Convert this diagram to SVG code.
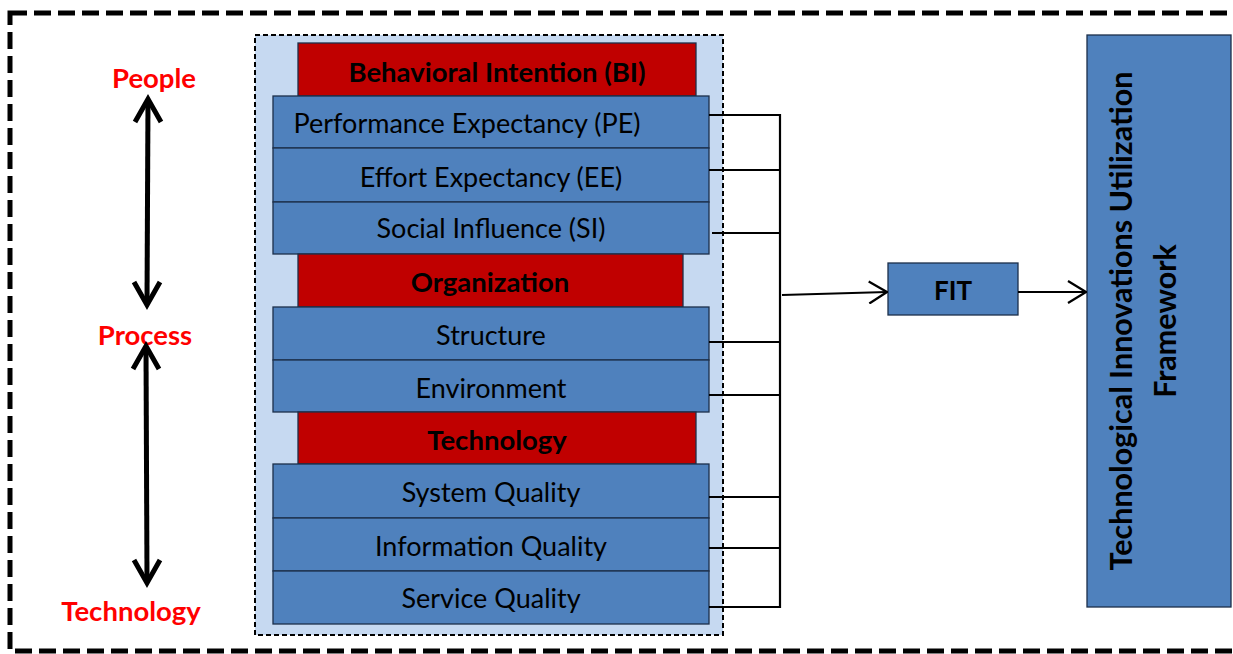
<svg xmlns="http://www.w3.org/2000/svg" width="1233" height="654" viewBox="0 0 1233 654">
  <style>
    .blue { fill: #4f81bd; stroke: #1c2f4a; stroke-width: 1.3; }
    .red { fill: #c00000; stroke: #1c2f4a; stroke-width: 1.3; }
    .lbl { font-family: Lato, "Open Sans", sans-serif; font-size: 27px; fill: #000; text-anchor: middle; }
    .hdr { font-family: Lato, "Open Sans", sans-serif; font-size: 27.5px; font-weight: bold; fill: #000; text-anchor: middle; }
    .vert { font-family: Lato, "Open Sans", sans-serif; font-size: 30.5px; font-weight: bold; fill: #000; text-anchor: middle; }
    .dim { font-family: Lato, "Open Sans", sans-serif; font-size: 27.5px; font-weight: bold; fill: #ff0000; text-anchor: middle; }
    .wire { fill: none; stroke: #000; stroke-width: 2.2; }
    .dbl { fill: none; stroke: #000; stroke-width: 5; stroke-linejoin: miter; }
  </style>
  <defs>
    <marker id="open" viewBox="0 0 20 24" refX="19" refY="12" markerWidth="20" markerHeight="24" markerUnits="userSpaceOnUse" orient="auto">
      <polyline points="1,1 19,12 1,23" fill="none" stroke="#000" stroke-width="2.2"/>
    </marker>
  </defs>

  <rect width="1233" height="654" fill="#fff"/>

  <!-- outer frame -->
  <rect x="10" y="13" width="1240" height="638" fill="none" stroke="#000" stroke-width="5" stroke-dasharray="17,7"/>

  <!-- dimension axis: People / Process / Technology -->
  <g id="axis">
    <text class="dim" x="154" y="88">People</text>
    <text class="dim" x="145" y="345">Process</text>
    <text class="dim" x="131" y="621">Technology</text>
    <line class="dbl" x1="148" y1="100" x2="147" y2="303"/>
    <polyline class="dbl" points="135,122 148,99 161,122"/>
    <polyline class="dbl" points="134,282 147,305 160,282"/>
    <line class="dbl" x1="146" y1="349" x2="147" y2="580"/>
    <polyline class="dbl" points="133,369 146,346 159,369"/>
    <polyline class="dbl" points="134,560 147,583 160,560"/>
  </g>

  <!-- factor stack container -->
  <g id="stack">
    <rect x="255" y="35" width="468" height="600" fill="#c6d9f1" stroke="#000" stroke-width="2" stroke-dasharray="5,3"/>
  </g>

  <g id="bi">
    <rect class="red" x="298" y="43" width="398" height="53"/>
    <text class="hdr" x="497" y="82">Behavioral Intention (BI)</text>
  </g>
  <g id="pe">
    <rect class="blue" x="273" y="96" width="436" height="52"/>
    <text class="lbl" x="467" y="133">Performance Expectancy (PE)</text>
  </g>
  <g id="ee">
    <rect class="blue" x="273" y="148" width="436" height="54"/>
    <text class="lbl" x="491" y="187">Effort Expectancy (EE)</text>
  </g>
  <g id="si">
    <rect class="blue" x="273" y="202" width="436" height="52"/>
    <text class="lbl" x="491" y="238">Social Influence (SI)</text>
  </g>
  <g id="org">
    <rect class="red" x="298" y="254" width="385" height="53"/>
    <text class="hdr" x="490" y="292">Organization</text>
  </g>
  <g id="structure">
    <rect class="blue" x="273" y="307" width="436" height="53"/>
    <text class="lbl" x="491" y="345">Structure</text>
  </g>
  <g id="environment">
    <rect class="blue" x="273" y="360" width="436" height="52"/>
    <text class="lbl" x="491" y="398">Environment</text>
  </g>
  <g id="tech">
    <rect class="red" x="298" y="412" width="398" height="52"/>
    <text class="hdr" x="497" y="450">Technology</text>
  </g>
  <g id="sysq">
    <rect class="blue" x="273" y="464" width="436" height="54"/>
    <text class="lbl" x="491" y="502">System Quality</text>
  </g>
  <g id="infoq">
    <rect class="blue" x="273" y="518" width="436" height="53"/>
    <text class="lbl" x="491" y="556">Information Quality</text>
  </g>
  <g id="servq">
    <rect class="blue" x="273" y="571" width="436" height="53"/>
    <text class="lbl" x="491" y="608">Service Quality</text>
  </g>

  <g id="fit">
    <rect class="blue" x="888" y="263" width="130" height="52"/>
    <text class="hdr" x="953" y="300" style="font-size:26px">FIT</text>
  </g>

  <g id="framework">
    <rect class="blue" x="1087" y="35" width="144" height="572"/>
    <text class="vert" transform="translate(1132 321) rotate(-90)" x="0" y="0">Technological Innovations Utilization</text>
    <text class="vert" transform="translate(1176 321) rotate(-90)" x="0" y="0">Framework</text>
  </g>

  <!-- connectors -->
  <g id="connectors">
    <polyline class="wire" points="709,115 780,115 780,607 709,607"/>
    <line class="wire" x1="709" y1="170" x2="780" y2="170"/>
    <line class="wire" x1="712" y1="233" x2="780" y2="233"/>
    <line class="wire" x1="709" y1="342" x2="780" y2="342"/>
    <line class="wire" x1="709" y1="395" x2="780" y2="395"/>
    <line class="wire" x1="709" y1="497" x2="780" y2="497"/>
    <line class="wire" x1="709" y1="548" x2="780" y2="548"/>
    <line class="wire" x1="782" y1="295" x2="887" y2="292" marker-end="url(#open)"/>
    <line class="wire" x1="1018" y1="292" x2="1086" y2="292" marker-end="url(#open)"/>
  </g>
</svg>
